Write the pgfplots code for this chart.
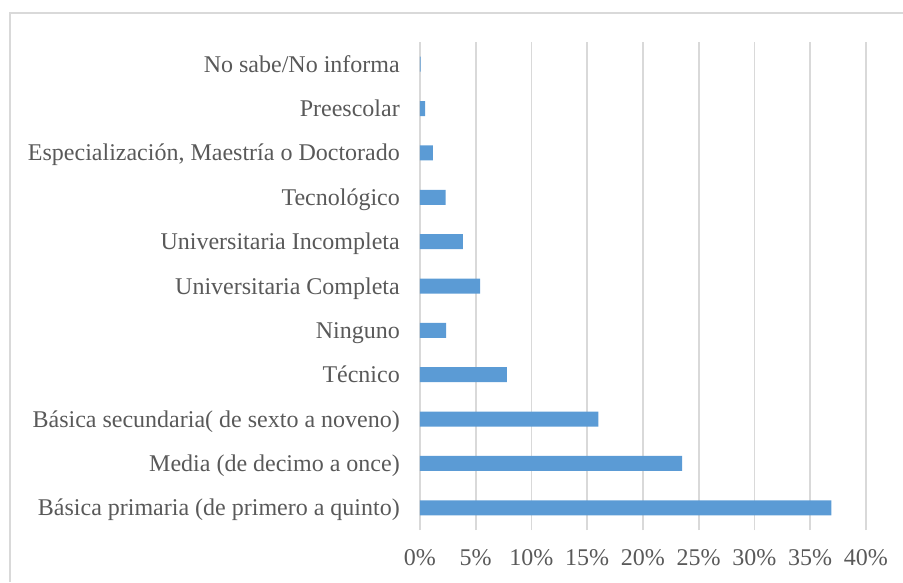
\documentclass[border=0pt]{standalone}
\usepackage{fontspec}
\setmainfont{Liberation Serif}
\usepackage{pgfplots}
\pgfplotsset{compat=1.18}
\definecolor{barblue}{HTML}{5B9BD5}
\definecolor{gridgray}{HTML}{D9D9D9}
\definecolor{txtgray}{HTML}{595959}

\begin{document}
\begin{tikzpicture}[x=1pt,y=1pt]
\begin{axis}[
    at={(0,0)}, anchor=south west,
    scale only axis,
    width=446pt, height=488pt,
    xbar, bar width=15pt,
    xmin=0, xmax=40,
    ymin=-0.5, ymax=10.5,
    xtick={0,5,...,40},
    xticklabels={0\%,5\%,10\%,15\%,20\%,25\%,30\%,35\%,40\%},
    ytick={0,...,10},
    yticklabels={
        Básica primaria (de primero a quinto),
        Media (de decimo a once),
        Básica secundaria( de sexto a noveno),
        Técnico,
        Ninguno,
        Universitaria Completa,
        Universitaria Incompleta,
        Tecnológico,
        {Especialización, Maestría o Doctorado},
        Preescolar,
        No sabe/No informa},
    axis line style={draw=none},
    major tick length=0pt,
    xmajorgrids, ymajorgrids=false,
    major grid style={gridgray, line width=1.6pt},
    tick label style={font=\fontsize{24}{28}\selectfont, text=txtgray},
    xticklabel style={inner sep=0pt, anchor=north, yshift=-19pt},
    yticklabel style={inner sep=0pt, anchor=east, xshift=-20pt,
        text height=17pt, text depth=5pt, yshift=-2pt},
]
\addplot[fill=barblue, draw=none] coordinates {
    (36.9,0) (23.5,1) (16.0,2) (7.8,3) (2.35,4) (5.4,5)
    (3.85,6) (2.3,7) (1.15,8) (0.45,9) (0.05,10)
};
\end{axis}
\draw[gridgray, line width=1.5pt] (-410,-52) -- (-410,517) -- (483,517);
\pgfresetboundingbox
\useasboundingbox (-420,-52) rectangle (483,530);
\end{tikzpicture}
\end{document}
